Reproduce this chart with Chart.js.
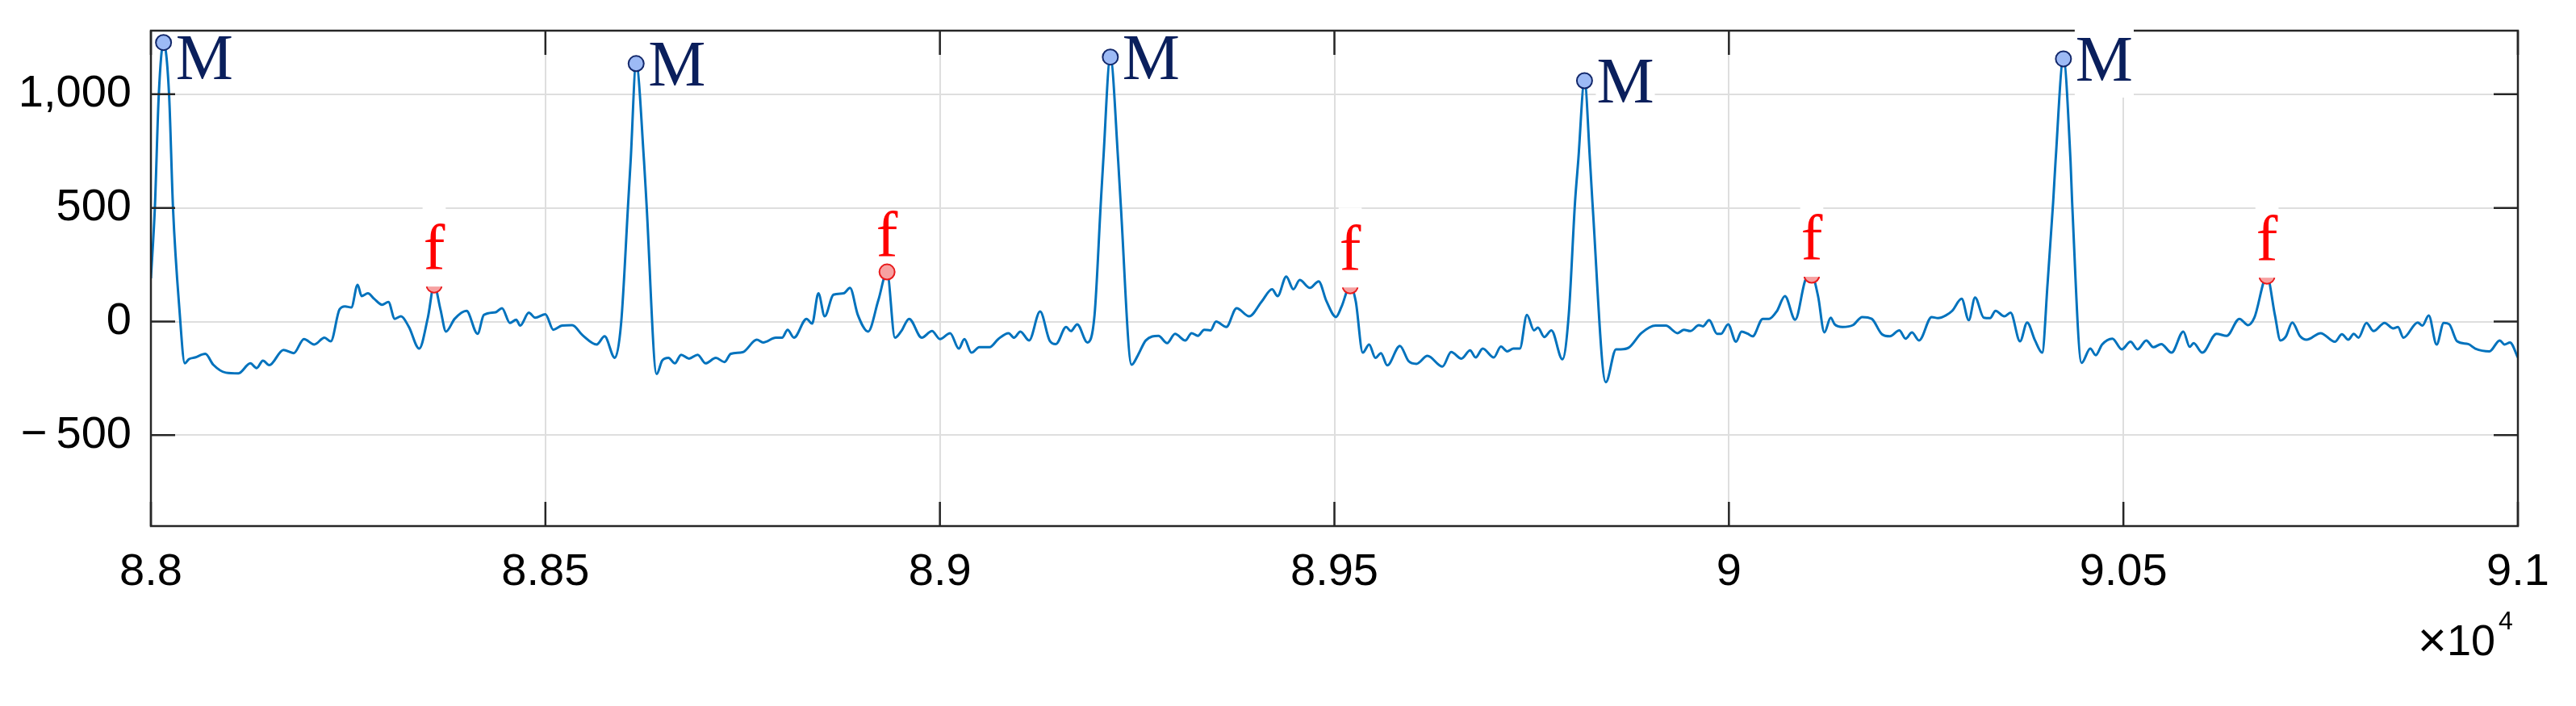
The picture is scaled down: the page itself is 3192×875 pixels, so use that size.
<!DOCTYPE html>
<html>
<head>
<meta charset="utf-8">
<script src="https://cdn.jsdelivr.net/npm/chart.js@4.4.1/dist/chart.umd.min.js"></script>
<style>
  html, body { margin: 0; padding: 0; background: #fff; }
  #wrap { width: 3192px; height: 875px; }
</style>
</head>
<body>
<div id="wrap"><canvas id="ecgChart" width="3192" height="875"></canvas></div>
<script>
// ============================================
// ECG trace with M / f markers
// ============================================

// ── Data ─────────────────────────────────
const sampleIdx = [
  88000, 88005, 88010, 88016, 88023, 88028, 88036, 88043, 88048, 88056, 88069, 88079, 88095, 88111,
  88126, 88134, 88142, 88150, 88168, 88181, 88194, 88207, 88220, 88228, 88239, 88246, 88254, 88262,
  88267, 88275, 88283, 88293, 88301, 88309, 88317, 88327, 88340, 88351, 88359, 88367, 88374, 88385,
  88400, 88414, 88422, 88437, 88445, 88455, 88463, 88468, 88479, 88487, 88500, 88510, 88521, 88534,
  88547, 88565, 88575, 88588, 88596, 88605, 88608, 88615, 88625, 88628, 88641,
  88648, 88656, 88664, 88672, 88682, 88693, 88703, 88716, 88727, 88735, 88750, 88768, 88776, 88792,
  88800, 88807, 88815, 88831, 88838, 88846, 88854, 88865, 88878, 88886, 88896, 88909, 88922, 88933,
  88943, 88951, 88961, 88977, 88990, 89000, 89013, 89024, 89031, 89040, 89050, 89063, 89074, 89087,
  89094, 89102, 89113, 89127, 89139, 89147, 89160, 89166, 89174, 89187, 89196, 89204, 89207, 89216,
  89226, 89229, 89243,
  89251, 89261, 89277, 89288, 89298, 89311, 89319, 89327, 89335, 89343, 89350, 89363, 89376, 89392,
  89408, 89421, 89428, 89439, 89448, 89456, 89469, 89480, 89490, 89502, 89509, 89520, 89527, 89536,
  89544, 89552, 89559, 89567, 89583, 89594, 89604, 89618, 89637, 89648, 89661, 89672, 89679, 89688,
  89702, 89711, 89719, 89727, 89735, 89744, 89753, 89758, 89766, 89775, 89789, 89797, 89805, 89809,
  89817, 89824, 89827, 89844,
  89857, 89863, 89873, 89889, 89907, 89920, 89935, 89943, 89951, 89962, 89967, 89975, 89985, 89990,
  89999, 90009, 90016, 90024, 90030, 90043, 90051, 90061, 90071, 90084, 90097, 90105, 90113, 90121,
  90129, 90134, 90144, 90157, 90169, 90181, 90194, 90204, 90216, 90224, 90232, 90241, 90257, 90265,
  90275, 90283, 90295, 90304, 90312, 90323, 90331, 90338, 90349, 90357, 90369, 90378, 90388, 90397,
  90404, 90411, 90414, 90424, 90433, 90435, 90447,
  90458, 90465, 90473, 90486, 90498, 90509, 90518, 90529, 90538, 90548, 90561, 90576, 90584, 90589,
  90600, 90618, 90631, 90647, 90658, 90666, 90682, 90692, 90699, 90706, 90714, 90724, 90732, 90750,
  90768, 90777, 90785, 90792, 90798, 90808, 90817, 90831, 90842, 90848, 90855, 90873, 90879, 90887,
  90897, 90906, 90913, 90923, 90937, 90946, 90964, 90977, 90983, 90990, 91000
];
const amplitude = [
  190, 500, 1000, 1228, 1000, 500, 60, -184, -166, -158, -142, -190, -225, -228,
  -184, -205, -172, -192, -125, -139, -77, -101, -71, -87, 53, 67, 62, 162,
  112, 124, 100, 74, 86, 12, 23, -24, -119, 17, 161, 53, -44, 12,
  47, -54, 29, 41, 59, -6, 8, -18, 39, 17, 32, -36, -18, -16,
  -60, -101, -65, -160, -6, 527, 705, 1135, 705, 527, -231,
  -172, -160, -184, -146, -163, -146, -184, -160, -178, -142, -135, -80, -92, -71,
  -71, -36, -71, 12, -9, 124, 23, 118, 124, 148, 29, -44, 94, 218,
  -71, -42, 12, -71, -42, -77, -51, -119, -77, -137, -113, -113, -77, -51,
  -71, -44, -83, 44, -83, -99, -24, -42, -12, -92, 29, 527, 705, 1164,
  705, 527, -190,
  -148, -83, -63, -95, -54, -83, -51, -63, -36, -39, 0, -24, 59, 23,
  89, 142, 112, 198, 142, 183, 148, 177, 89, 20, 65, 157, 90, -137,
  -101, -160, -139, -193, -107, -174, -186, -151, -198, -134, -163, -127, -158, -119,
  -158, -110, -131, -119, -119, 29, -39, -27, -68, -39, -166, 29, 527, 705,
  1060, 705, 527, -267,
  -122, -122, -115, -51, -18, -18, -51, -36, -42, -16, -21, 6, -54, -54,
  -12, -89, -44, -54, -65, 12, 12, 47, 112, 8, 183, 204, 112, -48,
  17, -12, -24, -16, 20, 12, -56, -65, -39, -75, -48, -83, 20, 15,
  27, 47, 100, 6, 106, 17, 15, 47, 23, 39, -87, -4, -83, -137,
  172, 527, 705, 1156, 705, 527, -182,
  -119, -148, -101, -75, -122, -89, -122, -83, -113, -99, -137, -44, -111, -95,
  -137, -54, -63, 12, -16, 17, 200, 29, -83, -65, -4, -65, -80, -51,
  -89, -56, -80, -54, -71, -6, -42, -6, -30, -24, -71, -4, -18, 27,
  -101, -6, -12, -87, -99, -119, -131, -83, -101, -92, -158
];

const peakX = [88016, 88615, 89216, 89817, 90424];
const peakY = [1228, 1135, 1164, 1060, 1156];
const footX = [88359, 88933, 89520, 90105, 90682];
const footY = [161, 218, 157, 204, 200];

const xTicks = [88000, 88500, 89000, 89500, 90000, 90500, 91000];
const yTicks = [-500, 0, 500, 1000];

// ── Styling ──────────────────────────────
const SANS  = '"Liberation Sans", Arial, sans-serif';
const SERIF = '"Liberation Serif", "Times New Roman", serif';
const AXIS_COLOR = '#262626';
const TICK_LEN = 30;
const TICK_FONT = 56;

const tagStyle = {
    M: { color: '#0a1f5c', boxed: [false, false, false, true, true], dy: [18, 0, 0, 0, 0] },
    f: { color: '#ff0000', boxed: [true, false, true, true, true] }
};

// ── Helpers ──────────────────────────────
function fmtY(v) {
    const s = Math.abs(v).toLocaleString('en-US');
    return v < 0 ? '\u2212\u2009' + s : s;
}

function drawTag(ctx, text, left, baseline, color, boxed) {
    ctx.font = '80px ' + SERIF;
    const w = ctx.measureText(text).width;
    if (boxed) {
        ctx.fillStyle = '#fff';
        ctx.fillRect(left - 1, baseline - 78, w + 2, 99);
    }
    ctx.fillStyle = color;
    ctx.textAlign = 'left';
    ctx.textBaseline = 'alphabetic';
    ctx.fillText(text, left, baseline);
}

// ── Frame, ticks and tags plugin ──────────
const framePlugin = {
    id: 'frame',
    beforeDraw(chart) {
        const ctx = chart.ctx;
        ctx.save();
        ctx.fillStyle = '#fff';
        ctx.fillRect(0, 0, chart.width, chart.height);
        ctx.restore();
    },
    afterDatasetsDraw(chart) {
        const { ctx, chartArea: a, scales: { x, y } } = chart;
        ctx.save();

        // box
        ctx.strokeStyle = AXIS_COLOR;
        ctx.lineWidth = 2.5;
        ctx.strokeRect(a.left, a.top, a.right - a.left, a.bottom - a.top);

        // inward ticks
        ctx.beginPath();
        xTicks.forEach(v => {
            const px = x.getPixelForValue(v);
            ctx.moveTo(px, a.bottom); ctx.lineTo(px, a.bottom - TICK_LEN);
            ctx.moveTo(px, a.top);    ctx.lineTo(px, a.top + TICK_LEN);
        });
        yTicks.forEach(v => {
            const py = y.getPixelForValue(v);
            ctx.moveTo(a.left, py);  ctx.lineTo(a.left + TICK_LEN, py);
            ctx.moveTo(a.right, py); ctx.lineTo(a.right - TICK_LEN, py);
        });
        ctx.stroke();

        // M tags: text just right of marker, vertically centred on it
        peakX.forEach((v, i) => {
            const px = x.getPixelForValue(v);
            const py = y.getPixelForValue(peakY[i]);
            drawTag(ctx, 'M', px + 15, py + 27 + tagStyle.M.dy[i], tagStyle.M.color, tagStyle.M.boxed[i]);
        });

        // f tags: centred above marker
        ctx.font = '80px ' + SERIF;
        const fw = ctx.measureText('f').width;
        footX.forEach((v, i) => {
            const px = x.getPixelForValue(v);
            const py = y.getPixelForValue(footY[i]);
            drawTag(ctx, 'f', px - fw / 2, py - 19, tagStyle.f.color, tagStyle.f.boxed[i]);
        });

        // exponent label  (x10^4 under the right end of the axis)
        ctx.fillStyle = '#000';
        ctx.textBaseline = 'alphabetic';
        ctx.textAlign = 'right';
        ctx.font = '54px ' + SANS;
        ctx.fillText('10', a.right - 28, a.bottom + 160);
        ctx.font = '62px ' + SANS;
        ctx.fillText('\u00d7', a.right - 88, a.bottom + 162);
        ctx.textAlign = 'left';
        ctx.font = '32px ' + SANS;
        ctx.fillText('4', a.right - 24, a.bottom + 128);

        ctx.restore();
    }
};

// ── Chart ────────────────────────────────
const ctx = document.getElementById('ecgChart');

new Chart(ctx, {
    type: 'line',
    data: {
        datasets: [
            {
                label: 'M',
                type: 'scatter',
                data: peakX.map((v, i) => ({ x: v, y: peakY[i] })),
                pointRadius: 9.5,
                pointBackgroundColor: '#9dbaf5',
                pointBorderColor: '#13286b',
                pointBorderWidth: 2,
                order: 1
            },
            {
                label: 'f',
                type: 'scatter',
                data: footX.map((v, i) => ({ x: v, y: footY[i] })),
                pointRadius: 9.5,
                pointBackgroundColor: '#f7a1a1',
                pointBorderColor: '#e8191b',
                pointBorderWidth: 2,
                order: 2
            },
            {
                label: 'signal',
                data: sampleIdx.map((v, i) => ({ x: v, y: amplitude[i] })),
                borderColor: '#0072BD',
                borderWidth: 3,
                pointRadius: 0,
                cubicInterpolationMode: 'monotone',
                borderJoinStyle: 'round',
                fill: false,
                order: 3
            }
        ]
    },
    options: {
        responsive: false,
        devicePixelRatio: 1,
        animation: false,
        parsing: false,
        layout: { padding: { left: 0, right: 72, top: 38, bottom: 0 } },
        plugins: {
            legend: { display: false },
            tooltip: { enabled: false }
        },
        scales: {
            x: {
                type: 'linear',
                min: 88000,
                max: 91000,
                afterBuildTicks: s => { s.ticks = xTicks.map(v => ({ value: v })); },
                afterFit: s => { s.height = 223; s.paddingLeft = 0; s.paddingRight = 0; },
                border: { display: false },
                grid: { color: '#dedede', lineWidth: 2, drawTicks: false },
                ticks: {
                    padding: 24,
                    color: '#000',
                    maxRotation: 0,
                    autoSkip: false,
                    font: { family: SANS, size: TICK_FONT },
                    callback: v => String(+(v / 1e4).toFixed(2))
                }
            },
            y: {
                type: 'linear',
                min: -900,
                max: 1280,
                afterBuildTicks: s => { s.ticks = yTicks.map(v => ({ value: v })); },
                afterFit: s => { s.width = 187; s.paddingTop = 0; s.paddingBottom = 0; },
                border: { display: false },
                grid: { color: '#dedede', lineWidth: 2, drawTicks: false },
                ticks: {
                    padding: 24,
                    color: '#000',
                    autoSkip: false,
                    font: { family: SANS, size: TICK_FONT },
                    callback: v => fmtY(v)
                }
            }
        }
    },
    plugins: [framePlugin]
});
</script>
</body>
</html>
